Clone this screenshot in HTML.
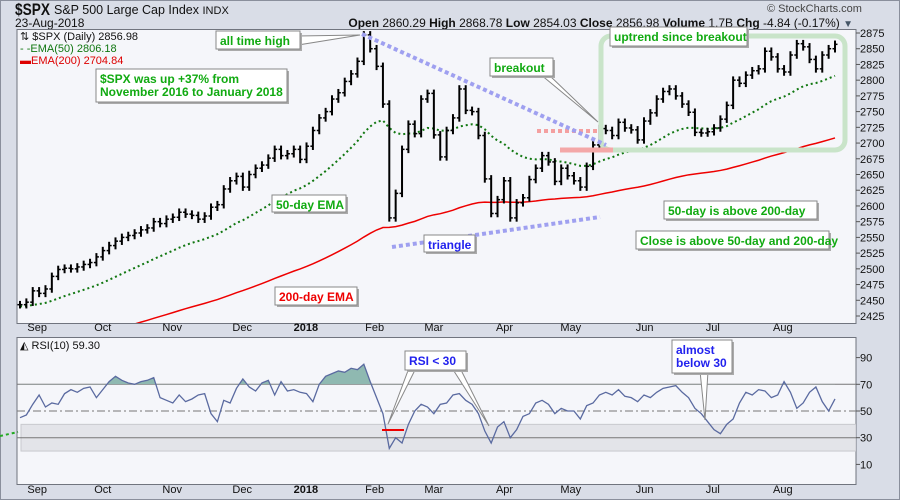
<!DOCTYPE html>
<html><head><meta charset="utf-8"><style>
body{margin:0;width:900px;height:500px;overflow:hidden;background:#d9dde7;font-family:"Liberation Sans",sans-serif}
svg{display:block}
</style></head><body>
<svg id="c" width="900" height="500" xmlns="http://www.w3.org/2000/svg">
<rect x="0.5" y="0.5" width="899" height="499" fill="#d9dde7" stroke="#8a8f9c"/>
<text x="15" y="15" font-size="17" font-weight="bold" fill="#111" textLength="35" lengthAdjust="spacingAndGlyphs">$SPX</text>
<text x="54" y="14" font-size="12.5" fill="#111">S&amp;P 500 Large Cap Index <tspan font-size="11">INDX</tspan></text>
<text x="15" y="27" font-size="12" fill="#111">23-Aug-2018</text>
<text x="767" y="12" font-size="11" fill="#444">© StockCharts.com</text>
<text x="853" y="27" font-size="12" fill="#111" text-anchor="end"><tspan font-weight="bold">Open</tspan> 2860.29  <tspan font-weight="bold">High</tspan> 2868.78  <tspan font-weight="bold">Low</tspan> 2854.03  <tspan font-weight="bold">Close</tspan> 2856.98  <tspan font-weight="bold">Volume</tspan> 1.7B  <tspan font-weight="bold">Chg</tspan> -4.84 (-0.17%) <tspan fill="#456" font-size="10">▼</tspan></text>
<rect x="17" y="29.5" width="839" height="294" fill="#f5f6fa" stroke="#70747e"/>
<rect x="17" y="337.5" width="839" height="147" fill="#f5f6fa" stroke="#70747e"/>
<g id="g"></g>
</svg>
<script>
const months=["Sep","Oct","Nov","Dec","2018","Feb","Mar","Apr","May","Jun","Jul","Aug"];
const monthStart=[2.7,13,23.9,34.9,44.9,55.7,65,76.1,86.5,98.1,108.8,119.8];
const closes=[2443,2447,2465,2461,2468,2488,2499,2501,2500,2503,2507,2510,2519,
2529,2537,2544,2550,2553,2557,2562,2565,2575,2572,2579,
2582,2590,2587,2585,2579,2584,2598,2602,2627,2640,2647,
2630,2650,2660,2665,2676,2690,2680,2683,2690,2674,
2695,2720,2740,2750,2770,2780,2798,2810,2830,2872,
2850,2822,2762,2581,2620,2690,2730,2715,2770,2779,2713,
2678,2720,2740,2786,2752,2750,2712,2643,2588,2610,2640,
2581,2605,2613,2642,2660,2680,2670,2639,2660,2648,
2640,2630,2663,2697,2723,2720,2712,2733,2724,2721,2705,
2735,2748,2770,2782,2786,2775,2762,2749,2717,2716,2718,
2724,2738,2760,2800,2795,2808,2815,2818,2846,2837,2818,
2813,2840,2858,2853,2833,2818,2840,2850,2857];
const rsi=[45,47,55,62,53,56,55,63,66,64,67,68,60,
66,72,76,73,71,70,72,73,75,60,58,
56,62,57,59,62,63,48,42,58,56,67,
74,68,65,71,73,62,72,65,66,64,
63,57,70,76,78,80,79,82,81,85,
72,60,48,22,30,26,40,50,55,53,48,
55,56,62,63,58,55,48,35,26,38,42,
30,36,46,48,56,58,55,48,52,50,
50,44,54,56,62,64,62,66,61,60,57,
62,60,64,67,68,69,64,60,52,48,42,
36,33,40,44,56,64,62,66,65,60,62,
72,64,52,56,64,68,57,50,59];
const priceTicks=[2425,2450,2475,2500,2525,2550,2575,2600,2625,2650,2675,2700,2725,2750,2775,2800,2825,2850,2875];
const rsiTicks=[10,30,50,70,90];
const ema50Seed=[2440], ema200Seed=[2368];

const NS="http://www.w3.org/2000/svg", G=document.getElementById('g');
const X=i=>20+i*(835-20)/(closes.length-1);
const Y=p=>33+(2875-p)*0.6289;
const R=r=>411-(r-50)*1.335;
function mk(t,a,parent){const e=document.createElementNS(NS,t);for(const k in a)e.setAttribute(k,a[k]);(parent||G).appendChild(e);return e;}
const defs=mk('defs',{});
const cp=mk('clipPath',{id:'cp'},defs);mk('rect',{x:17,y:30,width:839,height:293},cp);
const cr=mk('clipPath',{id:'cr'},defs);mk('rect',{x:17,y:338,width:839,height:146},cr);
const cr70=mk('clipPath',{id:'c70'},defs);mk('rect',{x:17,y:338,width:839,height:R(70)-338},cr70);
const pg=mk('g',{'clip-path':'url(#cp)'});
priceTicks.forEach(p=>{
 const t=mk('line',{x1:856,x2:860,y1:Y(p),y2:Y(p),stroke:'#555'});
 
 
 const l=mk('text',{x:860,y:Y(p)+4,'font-size':11,fill:'#111'});l.textContent=p;
 
 
});
rsiTicks.forEach(r=>{
 mk('line',{x1:856,x2:860,y1:R(r),y2:R(r),stroke:'#555'});
 const l=mk('text',{x:860,y:R(r)+4,'font-size':11,fill:'#111'});l.textContent=r;
 
 
});
months.forEach((m,k)=>{
 [331,493].forEach(yy=>{
  const l=mk('text',{x:X(monthStart[k]),y:yy,'font-size':11,fill:'#111','text-anchor':'middle','font-weight':m=='2018'?'bold':'normal'});l.textContent=m;
  
  
 });
});
mk('rect',{x:601,y:36,width:244,height:114,rx:10,fill:'none',stroke:'#c9e4c9','stroke-width':5});
let e50=ema50Seed[0],e200=ema200Seed[0],p50=[],p200=[];
closes.forEach((c,i)=>{e50+= (c-e50)*2/26; e200+=(c-e200)*2/101; p50.push(X(i)+','+Y(e50)); p200.push(X(i)+','+Y(e200));});
const l200=mk('polyline',{points:p200.join(' '),fill:'none',stroke:'#e00','stroke-width':1.5},pg);


const l50=mk('polyline',{points:p50.join(' '),fill:'none',stroke:'#171','stroke-width':2,'stroke-dasharray':'2,3'},pg);


mk('line',{x1:537,x2:600,y1:131,y2:131,stroke:'#f4a0a0','stroke-width':4,'stroke-dasharray':'4,3'});
mk('line',{x1:560,x2:613,y1:150,y2:150,stroke:'#f4a8a8','stroke-width':5});
mk('line',{x1:362,y1:34,x2:606,y2:145,stroke:'#9fa0f0','stroke-width':4,'stroke-dasharray':'4,3'});
mk('line',{x1:392,y1:247,x2:600,y2:217,stroke:'#9fa0f0','stroke-width':4,'stroke-dasharray':'4,3'});
closes.forEach((c,i)=>{
 const pr=i>0?closes[i-1]:c;
 const hi=Math.max(pr,c)+6, lo=Math.min(pr,c)-6;
 const b=mk('g',{},pg);
 
 
 mk('line',{x1:X(i),x2:X(i),y1:Y(hi),y2:Y(lo),stroke:'#000','stroke-width':2},b);
 mk('line',{x1:X(i)-2.5,x2:X(i),y1:Y(pr),y2:Y(pr),stroke:'#000','stroke-width':1.5},b);
 mk('line',{x1:X(i),x2:X(i)+2.5,y1:Y(c),y2:Y(c),stroke:'#000','stroke-width':1.5},b);
});
const rg=mk('g',{'clip-path':'url(#cr)'});
mk('rect',{x:21,y:R(40),width:835,height:R(20)-R(40),fill:'#e3e4e9',stroke:'#c8c9ce'},rg);
mk('line',{x1:17,x2:856,y1:R(70),y2:R(70),stroke:'#777'},rg);
mk('line',{x1:17,x2:856,y1:R(30),y2:R(30),stroke:'#777'},rg);
mk('line',{x1:17,x2:856,y1:R(50),y2:R(50),stroke:'#777','stroke-dasharray':'8,3,2,3'},rg);
const rp=rsi.map((r,i)=>X(i)+','+R(r));
mk('polygon',{points:X(0)+','+R(70)+' '+rp.join(' ')+' '+X(rsi.length-1)+','+R(70),fill:'#8fb9b1','clip-path':'url(#c70)'},rg);
const rl=mk('polyline',{points:rp.join(' '),fill:'none',stroke:'#5a6aa0','stroke-width':1.3},rg);


mk('line',{x1:0,x2:18,y1:436,y2:432,stroke:'#2a2','stroke-width':2,'stroke-dasharray':'3,3'});
mk('line',{x1:382,x2:404,y1:430,y2:430,stroke:'#e00','stroke-width':2});
function txt(x,y,s,fill,sz,name,bold){const t=mk('text',{x:x,y:y,'font-size':sz,fill:fill,'font-weight':bold?'bold':'normal'});t.textContent=s;return t;}
txt(20,40,'⇅ $SPX (Daily) 2856.98','#111',11,'legend-price');
txt(20,52,'- -EMA(50) 2806.18','#171',11,'legend-ema50');
txt(20,64,'▬EMA(200) 2704.84','#d00',11,'legend-ema200');
txt(20,349,'◭ RSI(10) 59.30','#111',11,'legend-rsi');
function box(x,y,w,h,lines,fill,name,ptr){
 const g=mk('g',{});
 
 
 if(ptr) ptr.forEach(p=>mk('polygon',{points:p,fill:'#fff',stroke:'#888'},g));
 mk('rect',{x:x+2,y:y+2,width:w,height:h,fill:'#aaa'},g);
 mk('rect',{x:x,y:y,width:w,height:h,fill:'#fff',stroke:'#888'},g);
 lines.forEach((s,k)=>{const t=mk('text',{x:x+4,y:y+14+k*13,'font-size':12,'font-weight':'bold',fill:fill},g);t.textContent=s;});
}
box(216,31,84,18,['all time high'],'#1a1',  'callout-all-time-high',['298,36 360,35 298,45']);
box(96,69,191,33,['$SPX was up +37% from','November 2016 to January 2018'],'#1a1','callout-gain');
box(490,58,63,18,['breakout'],'#1a1','callout-breakout',['540,74 598,122 548,74']);
box(610,27,137,19,['uptrend since breakout'],'#1a1','callout-uptrend');
box(272,195,74,17,['50-day EMA'],'#1a1','callout-ema50');
box(424,235,51,17,['triangle'],'#22e','callout-triangle');
box(275,287,82,18,['200-day EMA'],'#e00','callout-ema200');
box(664,201,153,18,['50-day is above 200-day'],'#1a1','callout-50-above-200');
box(636,231,193,18,['Close is above 50-day and 200-day'],'#1a1','callout-close-above');
box(405,351,61,19,['RSI < 30'],'#22e','callout-rsi-below-30',['409,368 388,424 416,368','452,368 489,426 460,368']);
box(672,340,60,33,['almost','below 30'],'#22e','callout-almost-below-30',['700,371 705,420 708,371']);
</script>
</body></html>
